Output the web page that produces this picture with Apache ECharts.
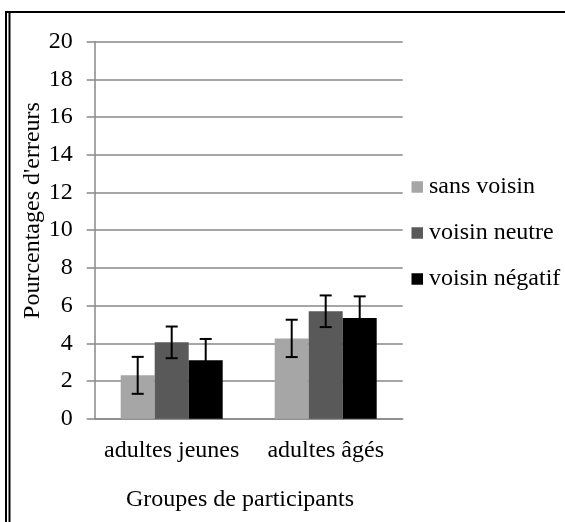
<!DOCTYPE html>
<html>
<head>
<meta charset="utf-8">
<script src="https://cdn.jsdelivr.net/npm/echarts@6/dist/echarts.min.js"></script>
<style>
html,body{margin:0;padding:0;background:#fff;}
#chart{width:565px;height:522px;}
</style>
</head>
<body>
<div id="chart"></div>
<script>
// ---- data ----
var categories = ['adultes jeunes', 'adultes âgés'];
var seriesNames = ['sans voisin', 'voisin neutre', 'voisin négatif'];
var sansVoisin = [2.30, 4.26];
var voisinNeutre = [4.05, 5.70];
var voisinNegatif = [3.10, 5.34];
var errSansVoisin = [0.98, 0.99];
var errVoisinNeutre = [0.84, 0.84];
var errVoisinNegatif = [1.13, 1.15];
var yTicks = [0, 2, 4, 6, 8, 10, 12, 14, 16, 18, 20];
var yAxisTitle = "Pourcentages d'erreurs";
var xAxisTitle = 'Groupes de participants';

// ---- styles ----
var colors = ['#a6a6a6', '#595959', '#000000'];
var FONT = '"Liberation Serif", "Times New Roman", serif';
var FS = 24;
var BAR_W = 34;
var gridColor = '#888888';

var values = [sansVoisin, voisinNeutre, voisinNegatif];
var errors = [errSansVoisin, errVoisinNeutre, errVoisinNegatif];

var series = [];
values.forEach(function (vals, k) {
  series.push({
    name: seriesNames[k],
    type: 'bar',
    data: vals,
    barWidth: BAR_W,
    barGap: '0%',
    itemStyle: { color: colors[k] },
    z: 2
  });
});
values.forEach(function (vals, k) {
  var data = vals.map(function (v, i) {
    return [i, v + errors[k][i], v - errors[k][i]];
  });
  series.push({
    type: 'custom',
    name: seriesNames[k] + ' err',
    data: data,
    encode: { x: 0, y: [1, 2] },
    z: 5,
    silent: true,
    renderItem: (function (kk) {
      return function (params, api) {
        var ci = api.value(0);
        var top = api.coord([ci, api.value(1)]);
        var bot = api.coord([ci, api.value(2)]);
        var x = top[0] + (kk - 1) * BAR_W;
        var half = 6;
        var st = { stroke: '#000', lineWidth: 2, fill: null };
        return {
          type: 'group',
          children: [
            { type: 'line', shape: { x1: x, y1: top[1], x2: x, y2: bot[1] }, style: st },
            { type: 'line', shape: { x1: x - half, y1: top[1], x2: x + half, y2: top[1] }, style: st },
            { type: 'line', shape: { x1: x - half, y1: bot[1], x2: x + half, y2: bot[1] }, style: st }
          ]
        };
      };
    })(k)
  });
});

var chart = echarts.init(document.getElementById('chart'), null, { renderer: 'canvas' });
chart.setOption({
  animation: false,
  backgroundColor: '#ffffff',
  textStyle: { fontFamily: FONT },
  grid: { left: 94.7, right: 162.3, top: 41.7, bottom: 103.3, containLabel: false },
  legend: {
    data: seriesNames,
    orient: 'vertical',
    left: 411.5,
    top: 175,
    padding: 0,
    itemGap: 22,
    itemWidth: 11.5,
    itemHeight: 11.5,
    icon: 'rect',
    textStyle: { fontFamily: FONT, fontSize: FS, color: '#000', lineHeight: 24, padding: [0, 0, 0, 1] }
  },
  xAxis: {
    type: 'category',
    data: categories,
    axisLine: { show: true, lineStyle: { color: gridColor, width: 1.5 } },
    axisTick: { show: false },
    axisLabel: { fontFamily: FONT, fontSize: FS, color: '#000', margin: 20, interval: 0 },
    splitLine: { show: false }
  },
  yAxis: {
    type: 'value',
    min: yTicks[0],
    max: yTicks[yTicks.length - 1],
    interval: yTicks[1] - yTicks[0],
    axisLine: { show: true, lineStyle: { color: gridColor, width: 1.5 } },
    axisTick: { show: true, length: 8, lineStyle: { color: gridColor, width: 1.5 } },
    axisLabel: { fontFamily: FONT, fontSize: FS, color: '#000', margin: 22 },
    splitLine: { show: true, lineStyle: { color: gridColor, width: 1.5 } }
  },
  graphic: [
    { type: 'rect', shape: { x: 5, y: 11, width: 560, height: 2 }, style: { fill: '#000' }, silent: true },
    { type: 'rect', shape: { x: 5, y: 11, width: 2, height: 520 }, style: { fill: '#000' }, silent: true },
    { type: 'rect', shape: { x: 8.5, y: 11, width: 2, height: 520 }, style: { fill: '#000' }, silent: true },
    {
      type: 'text', x: 33, y: 210.5, rotation: Math.PI / 2,
      style: { text: yAxisTitle, font: FS + 'px ' + FONT, fill: '#000', align: 'center', verticalAlign: 'middle' },
      silent: true
    },
    {
      type: 'text', x: 240, y: 500,
      style: { text: xAxisTitle, font: FS + 'px ' + FONT, fill: '#000', align: 'center', verticalAlign: 'middle' },
      silent: true
    }
  ],
  series: series
});
</script>
</body>
</html>
